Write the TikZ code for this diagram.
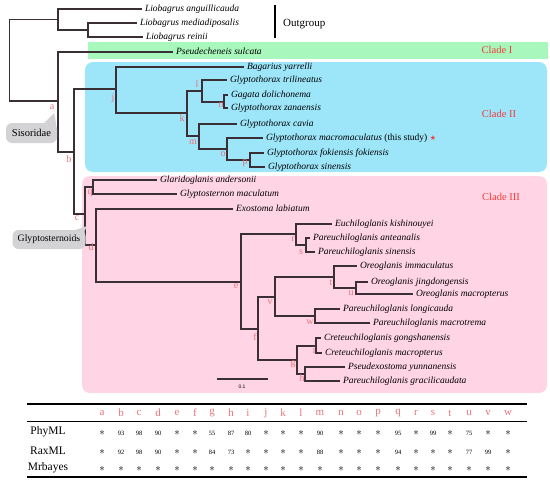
\documentclass[tikz,border=0pt]{standalone}
\usepackage{fontspec}
\setmainfont{Liberation Serif}
\newfontfamily\sansf{Liberation Sans}
\newfontfamily\symf{DejaVu Sans}
\definecolor{branch}{HTML}{3B2F36}
\definecolor{nodered}{HTML}{E8747C}
\definecolor{cladered}{HTML}{F53A3A}
\definecolor{greenband}{HTML}{A8F7BC}
\definecolor{blueband}{HTML}{9DE6FA}
\definecolor{pinkband}{HTML}{FFD5E5}
\definecolor{callgray}{HTML}{D3D3D5}
\newcommand\sig{{\fontsize{11}{11}\selectfont$\ast$}}
\begin{document}
\begin{tikzpicture}[x=1pt,y=-1pt,
  br/.style={draw=branch,line width=1.2pt},
  leaf/.style={anchor=west,inner xsep=3pt,inner ysep=0pt,outer sep=0pt,font=\fontsize{9.5}{10}\selectfont\itshape,text height=5.8pt,text depth=1.5pt},
  nlab/.style={text=nodered,inner sep=0pt,font=\fontsize{10}{10}\selectfont},
  cladelab/.style={text=cladered,inner sep=0pt,font=\fontsize{10.5}{12}\selectfont},
  callout/.style={fill=callgray,rounded corners=6pt,inner sep=0pt},
  hdr/.style={text=nodered,inner sep=0pt,font=\fontsize{11}{12}\selectfont},
  val/.style={inner sep=0pt,font=\fontsize{6.5}{7}\selectfont},
  rowlab/.style={inner sep=0pt,font=\fontsize{11.5}{13}\selectfont},
  rule/.style={draw=black,line width=1.1pt}]
\useasboundingbox (0,0) rectangle (550,482);
% bands
\fill[greenband] (88,42) rectangle (548,59);
\fill[blueband,rounded corners=8pt] (85,62) rectangle (547,172);
\fill[pinkband,rounded corners=8pt] (82,176) rectangle (547,393);
% clade labels
\node[cladelab] (cl1) at (497,50) {Clade I};
\node[cladelab] (cl2) at (499,114) {Clade II};
\node[cladelab] (cl3) at (501,197) {Clade III};
% outgroup bar
\coordinate (ogt) at (275,5);
\coordinate (ogb) at (275,38);
\draw[line width=1.6pt] (ogt) -- (ogb);
\node[anchor=west,inner sep=0pt,font=\fontsize{11}{12}\selectfont] (ogl) at (283,24) {Outgroup};
% internal nodes
\coordinate (root) at (9.5,60);
\coordinate (og) at (58,19.5);
\coordinate (mr) at (88,30);
\coordinate (a) at (58,101);
\coordinate (b) at (74,152);
\coordinate (j) at (116,89);
\coordinate (k) at (187,113);
\coordinate (l) at (202,91);
\coordinate (n) at (224,102);
\coordinate (m) at (199,136);
\coordinate (o) at (227,149);
\coordinate (p) at (250,160);
\coordinate (c) at (85,214);
\coordinate (q) at (93,187);
\coordinate (d) at (96,245);
\coordinate (e) at (241,282);
\coordinate (r) at (296,234);
\coordinate (s) at (306,245);
\coordinate (f) at (258,329);
\coordinate (v) at (275,297);
\coordinate (t) at (334,277);
\coordinate (u) at (356,288);
\coordinate (w) at (315,316);
\coordinate (g) at (297,360);
\coordinate (i) at (316,346);
\coordinate (h) at (305,374);
% leaves
\node[leaf] (L1) at (142,9) {Liobagrus anguillicauda};
\node[leaf] (L2) at (137,23) {Liobagrus mediadiposalis};
\node[leaf] (L3) at (143,37) {Liobagrus reinii};
\node[leaf] (L4) at (173,52) {Pseudecheneis sulcata};
\node[leaf] (L5) at (244,67) {Bagarius yarrelli};
\node[leaf] (L6) at (227,80) {Glyptothorax trilineatus};
\node[leaf] (L7) at (228,95) {Gagata dolichonema};
\node[leaf] (L8) at (228,108) {Glyptothorax zanaensis};
\node[leaf] (L9) at (237,124) {Glyptothorax cavia};
\node[leaf] (L10) at (263,138) {Glyptothorax macromaculatus \upshape(this study) {\symf\fontsize{7}{8}\selectfont\textcolor{cladered}{★}}};
\node[leaf] (L11) at (264,153) {Glyptothorax fokiensis fokiensis};
\node[leaf] (L12) at (265,167) {Glyptothorax sinensis};
\node[leaf] (L13) at (157,180) {Glaridoglanis andersonii};
\node[leaf] (L14) at (177,194) {Glyptosternon maculatum};
\node[leaf] (L15) at (233,209) {Exostoma labiatum};
\node[leaf] (L16) at (332,224) {Euchiloglanis kishinouyei};
\node[leaf] (L17) at (310,238) {Pareuchiloglanis anteanalis};
\node[leaf] (L18) at (315,252) {Pareuchiloglanis sinensis};
\node[leaf] (L19) at (357,266) {Oreoglanis immaculatus};
\node[leaf] (L20) at (368,282) {Oreoglanis jingdongensis};
\node[leaf] (L21) at (413,294) {Oreoglanis macropterus};
\node[leaf] (L22) at (340,309) {Pareuchiloglanis longicauda};
\node[leaf] (L23) at (370,323) {Pareuchiloglanis macrotrema};
\node[leaf] (L24) at (321,338) {Creteuchiloglanis gongshanensis};
\node[leaf] (L25) at (322,353) {Creteuchiloglanis macropterus};
\node[leaf] (L26) at (345,367) {Pseudexostoma yunnanensis};
\node[leaf] (L27) at (340,381) {Pareuchiloglanis gracilicaudata};
% branches
\draw[br] (root) |- (og);
\draw[br] (root) |- (a);
\draw[br] (og) |- (L1.west);
\draw[br] (og) |- (mr);
\draw[br] (mr) |- (L2.west);
\draw[br] (mr) |- (L3.west);
\draw[br] (a) |- (L4.west);
\draw[br] (a) |- (b);
\draw[br] (b) |- (j);
\draw[br] (b) |- (c);
\draw[br] (j) |- (L5.west);
\draw[br] (j) |- (k);
\draw[br] (k) |- (l);
\draw[br] (k) |- (m);
\draw[br] (l) |- (L6.west);
\draw[br] (l) |- (n);
\draw[br] (n) |- (L7.west);
\draw[br] (n) |- (L8.west);
\draw[br] (m) |- (L9.west);
\draw[br] (m) |- (o);
\draw[br] (o) |- (L10.west);
\draw[br] (o) |- (p);
\draw[br] (p) |- (L11.west);
\draw[br] (p) |- (L12.west);
\draw[br] (c) |- (q);
\draw[br] (c) |- (d);
\draw[br] (q) |- (L13.west);
\draw[br] (q) |- (L14.west);
\draw[br] (d) |- (L15.west);
\draw[br] (d) |- (e);
\draw[br] (e) |- (r);
\draw[br] (e) |- (f);
\draw[br] (r) |- (L16.west);
\draw[br] (r) |- (s);
\draw[br] (s) |- (L17.west);
\draw[br] (s) |- (L18.west);
\draw[br] (f) |- (v);
\draw[br] (f) |- (g);
\draw[br] (v) |- (t);
\draw[br] (v) |- (w);
\draw[br] (t) |- (L19.west);
\draw[br] (t) |- (u);
\draw[br] (u) |- (L20.west);
\draw[br] (u) |- (L21.west);
\draw[br] (w) |- (L22.west);
\draw[br] (w) |- (L23.west);
\draw[br] (g) |- (i);
\draw[br] (g) |- (h);
\draw[br] (i) |- (L24.west);
\draw[br] (i) |- (L25.west);
\draw[br] (h) |- (L26.west);
\draw[br] (h) |- (L27.west);
% node labels
\foreach \nm/\x/\y in {a/52/107,b/69/159,c/77/218,d/91/247,e/236/286,f/255/337,g/293/364,h/302/378,i/314/350,j/113/98,k/182/118,l/197/84,m/193/142,n/221/105,o/223/154,p/245/163,q/90/193,r/293/239,s/301/252,t/331/283,u/351/293,v/270/302,w/310/322}
  \node[nlab] (lab-\nm) at (\x,\y) {\nm};
% callouts
\node[callout,minimum width=51pt,minimum height=20pt,font=\fontsize{10.5}{12}\selectfont] (siso) at (31.5,133) {Sisoridae};
\coordinate (sisotip) at (54,113);
\fill[callgray] ([xshift=-13pt]siso.north east) -- (sisotip) -- ([xshift=-1pt,yshift=-1pt]siso.north east) -- ([xshift=-1pt,yshift=-7pt]siso.north east) -- ([xshift=-13pt,yshift=-7pt]siso.north east) -- cycle;
\node[callout,minimum width=73pt,minimum height=19pt,font=\fontsize{9.8}{12}\selectfont] (glypt) at (49,239.5) {Glyptosternoids};
\coordinate (glypttip) at (87,226);
\fill[callgray] ([xshift=-10pt]glypt.north east) -- (glypttip) -- ([xshift=-1pt,yshift=-1pt]glypt.north east) -- ([xshift=-1pt,yshift=-7pt]glypt.north east) -- ([xshift=-10pt,yshift=-7pt]glypt.north east) -- cycle;
% scale bar
\coordinate (sb1) at (217,379);
\coordinate (sb2) at (268,379);
\draw[line width=1.2pt,draw=branch] (sb1) -- (sb2);
\node[inner sep=0pt,font=\sansf\fontsize{5}{6}\selectfont] (sbl) at (242,386.5) {0.1};
% table
\coordinate (r1a) at (27,404); \coordinate (r1b) at (527,404);
\coordinate (r2a) at (27,421); \coordinate (r2b) at (527,421);
\coordinate (r3a) at (27,477); \coordinate (r3b) at (527,477);
\draw[rule] (r1a) -- (r1b);
\draw[rule,line width=0.9pt] (r2a) -- (r2b);
\draw[rule] (r3a) -- (r3b);
\node[rowlab] (phy) at (48,432) {PhyML};
\node[rowlab] (rax) at (48,451) {RaxML};
\node[rowlab] (mrb) at (48,468) {Mrbayes};
\foreach \l/\x/\pv/\rv in {a/102/\sig/\sig,b/121/93/92,c/139/98/98,d/158/90/90,e/177/\sig/\sig,f/195/\sig/\sig,g/212/55/84,h/231/87/73,i/248/80/\sig,j/266/\sig/\sig,k/283/\sig/\sig,l/301/\sig/\sig,m/320/90/88,n/341/\sig/\sig,o/359/\sig/\sig,p/378/\sig/\sig,q/398/95/94,r/416/\sig/\sig,s/433/99/\sig,t/450/\sig/\sig,u/469/75/77,v/488/\sig/99,w/508/\sig/\sig}{
  \node[hdr] (hd-\l) at (\x,413) {\l};
  \node[val] (pv-\l) at (\x,433) {\pv};
  \node[val] (rv-\l) at (\x,452) {\rv};
  \node[val] (mv-\l) at (\x,469) {\sig};
}
\end{tikzpicture}
\end{document}
